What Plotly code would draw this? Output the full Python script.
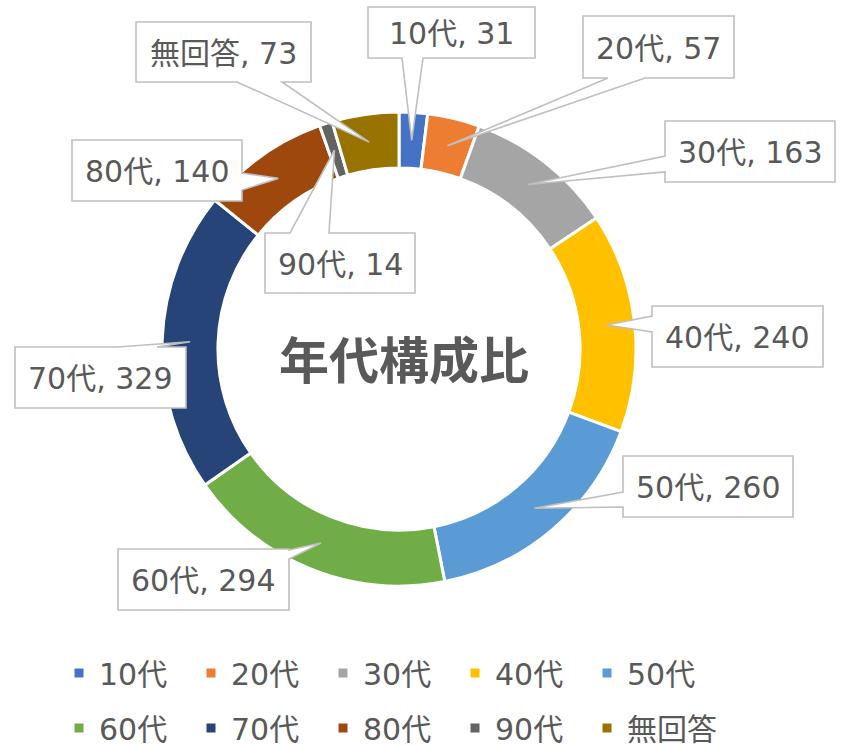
import math
import plotly.graph_objects as go

# ---------------- data ----------------
categories = ["10代", "20代", "30代", "40代", "50代", "60代", "70代", "80代", "90代", "無回答"]
counts = [31, 57, 163, 240, 260, 294, 329, 140, 14, 73]
colors = ["#4472C4", "#ED7D31", "#A5A5A5", "#FFC000", "#5B9BD5",
          "#70AD47", "#264478", "#9E480E", "#636363", "#997300"]
chart_title = "年代構成比"

# ---------------- layout constants (pixels) ----------------
FIG_W, FIG_H = 844, 746
M_L, M_R, M_T, M_B = 100, 44, 0, 0
PW = FIG_W - M_L - M_R
PH = FIG_H - M_T - M_B
CX, CY, R_OUT, HOLE = 399, 349, 237, 0.764
FONT = "DejaVu Sans, Noto Sans CJK JP, sans-serif"
TEXT_COLOR = "#595959"
BOX_COLOR = "#BFBFBF"

# callout boxes: (x0, y0, x1, y1, side of wedge, base1, base2)
label_boxes = [
    (368, 7, 535, 58, "bottom", 402, 423),
    (583, 16, 734, 78, "bottom", 608, 645),
    (665, 121, 835, 182, "left", 156, 172),
    (652, 306, 823, 367, "left", 316, 332),
    (623, 456, 793, 517, "left", 492, 507),
    (118, 549, 289, 610, "right", 550, 559),
    (15, 347, 186, 408, "top", 117, 157),
    (72, 140, 242, 201, "right", 173, 190),
    (265, 233, 415, 293, "top", 290, 329),
    (136, 22, 311, 82, "bottom", 237, 282),
]


def px2x(px):
    return (px - M_L) / PW


def py2y(py):
    return (FIG_H - M_B - py) / PH


def callout_path(x0, y0, x1, y1, side, b1, b2, tip):
    tx, ty = tip
    lo, hi = min(b1, b2), max(b1, b2)
    if side == "bottom":
        pts = [(x0, y0), (x1, y0), (x1, y1), (hi, y1), (tx, ty), (lo, y1), (x0, y1)]
    elif side == "top":
        pts = [(x0, y0), (lo, y0), (tx, ty), (hi, y0), (x1, y0), (x1, y1), (x0, y1)]
    elif side == "left":
        pts = [(x0, y0), (x1, y0), (x1, y1), (x0, y1), (x0, hi), (tx, ty), (x0, lo)]
    else:  # right
        pts = [(x0, y0), (x1, y0), (x1, lo), (tx, ty), (x1, hi), (x1, y1), (x0, y1)]
    return "M " + " L ".join(f"{px2x(p[0]):.5f},{py2y(p[1]):.5f}" for p in pts) + " Z"


# ---------------- figure ----------------
legend_labels = [f'<span style="font-size:30px;baseline-shift:4px">{c}</span>' for c in categories]

fig = go.Figure()
fig.add_trace(go.Pie(
    labels=legend_labels,
    values=counts,
    marker=dict(colors=colors, line=dict(color="white", width=[3] * len(categories))),
    hole=HOLE,
    sort=False,
    direction="clockwise",
    rotation=0,
    textinfo="none",
    domain=dict(x=[px2x(CX - R_OUT), px2x(CX + R_OUT)],
                y=[py2y(CY + R_OUT), py2y(CY - R_OUT)]),
))

# callouts: tip at the middle of the ring at each slice's mid-angle
total = sum(counts)
r_mid = R_OUT * (1 + HOLE) / 2
shapes = []
annotations = []
cum = 0
for cat, val, box in zip(categories, counts, label_boxes):
    ang = (cum + val / 2) / total * 2 * math.pi
    cum += val
    tip = (CX + r_mid * math.sin(ang), CY - r_mid * math.cos(ang))
    x0, y0, x1, y1, side, b1, b2 = box
    shapes.append(dict(
        type="path", xref="paper", yref="paper",
        path=callout_path(x0, y0, x1, y1, side, b1, b2, tip),
        fillcolor="white", line=dict(color=BOX_COLOR, width=1.6),
        layer="above",
    ))
    annotations.append(dict(
        xref="paper", yref="paper",
        x=px2x((x0 + x1) / 2), y=py2y((y0 + y1) / 2 + 1),
        text=f"{cat}, {val}", showarrow=False,
        xanchor="center", yanchor="middle",
        font=dict(family=FONT, size=30, color=TEXT_COLOR),
    ))

annotations.append(dict(
    xref="paper", yref="paper", x=px2x(404), y=py2y(357),
    text=f"<b>{chart_title}</b>", showarrow=False,
    xanchor="center", yanchor="middle",
    font=dict(family="Noto Sans CJK JP, sans-serif", size=50, color=TEXT_COLOR),
))

fig.update_layout(
    width=FIG_W, height=FIG_H,
    margin=dict(l=M_L, r=M_R, t=M_T, b=M_B, autoexpand=False),
    paper_bgcolor="white", plot_bgcolor="white",
    showlegend=True,
    legend=dict(
        orientation="h", xref="container", yref="container",
        x=59 / FIG_W, y=1 - 640.5 / FIG_H, xanchor="left", yanchor="top",
        entrywidth=87, entrywidthmode="pixels",
        font=dict(family=FONT, size=40, color=TEXT_COLOR),
        bgcolor="rgba(0,0,0,0)", traceorder="normal",
    ),
    shapes=shapes,
    annotations=annotations,
)

fig.write_html("out.html")
